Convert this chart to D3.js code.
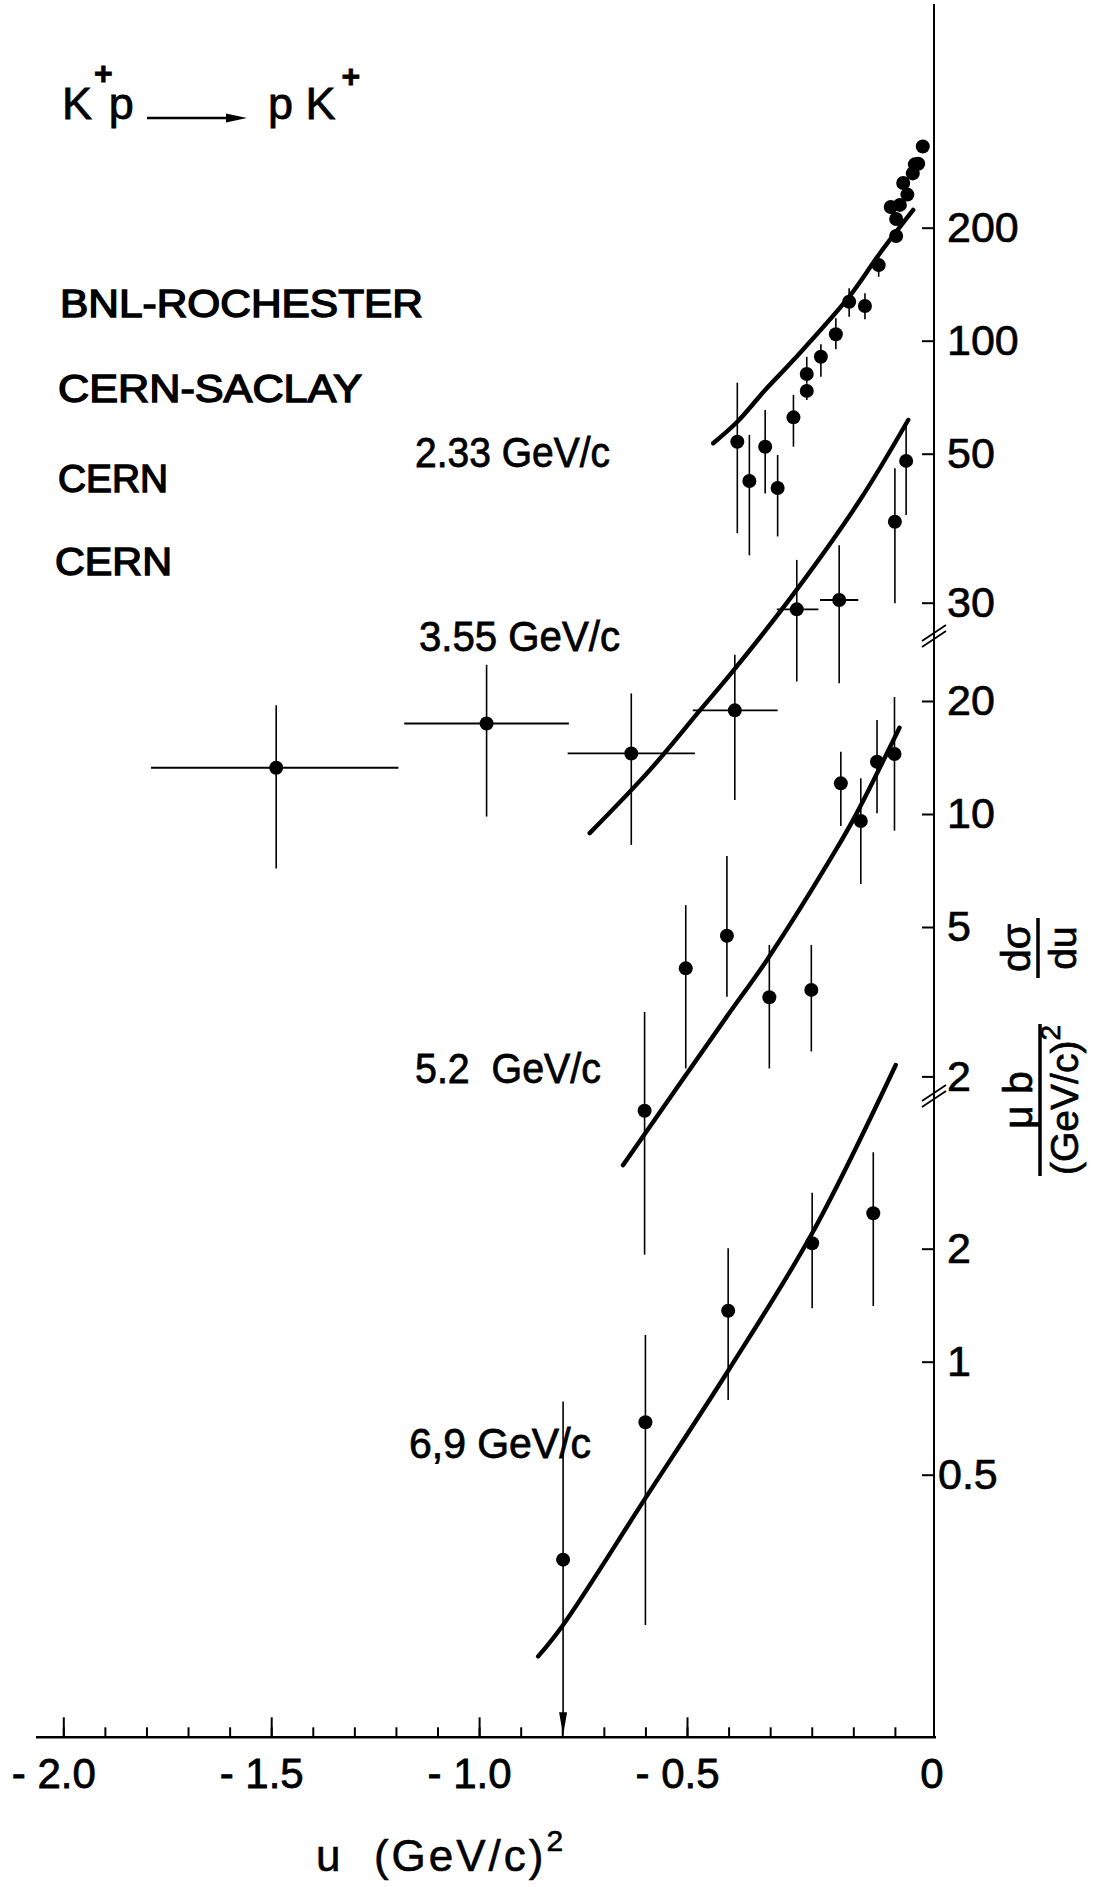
<!DOCTYPE html>
<html>
<head>
<meta charset="utf-8">
<script src="https://cdn.jsdelivr.net/npm/d3@7"></script>
<style>
  body { margin: 0; background: #fff; }
  svg { display: block; }
  text { font-family: "Liberation Sans", Arial, sans-serif; fill: #000; white-space: pre; }
</style>
</head>
<body>
<div id="chart"></div>
<script>
// ---- data ----
var experiments = ["BNL-ROCHESTER", "CERN-SACLAY", "CERN", "CERN"];
var momenta = ["2.33 GeV/c", "3.55 GeV/c", "5.2  GeV/c", "6,9 GeV/c"];

// 2.33 GeV/c
var u233 = [-0.379, -0.350, -0.312, -0.282, -0.244, -0.212, -0.212, -0.178, -0.142, -0.110, -0.072, -0.039,
            0.003, 0.003, -0.010, 0.012, 0.030, 0.020, 0.043, 0.048, 0.056, 0.067];
var s233 = [53.8, 42.3, 52.2, 40.5, 62.5, 73.5, 81.5, 90.6, 104, 127, 123.7, 159,
            190, 211, 227, 230, 245, 263, 279, 295, 296, 329];
var lo233 = [30.7, 26.8, 39.2, 30.1, 52.2, 69.5, 77, 80.2, 94.9, 115.9, 114, 148,
             183, 205, 222, 225, 240, 258, 274, 290, 291, 323];
var hi233 = [77.3, 56.1, 65.4, 49.6, 71.7, 77, 90.6, 97.8, 114.7, 137.9, 133.8, 167,
             197, 217, 233, 235, 250, 268, 284, 300, 301, 335];
var cu233 = [-0.437, -0.379, -0.312, -0.244, -0.110, -0.036, 0.044];
var cv233 = [53.3, 60.8, 73.9, 88.8, 131, 171, 223];

// 3.55 GeV/c
var u355 = [-1.488, -0.982, -0.634, -0.385, -0.236, -0.134, 0.000, 0.027];
var uLo355 = [-1.789, -1.180, -0.787, -0.486, -0.284, -0.180, null, null];
var uHi355 = [-1.194, -0.784, -0.481, -0.282, -0.184, -0.088, null, null];
var s355 = [10.9, 14.3, 11.9, 15.5, 28.8, 30.5, 49.3, 71.6];
var lo355 = [5.88, 8.08, 6.79, 8.94, 18.5, 18.3, 29.9, 51.4];
var hi355 = [16.0, 20.5, 17.2, 21.8, 39.0, 42.7, 68.4, 88.3];
var cu355 = [-0.734, -0.589, -0.469, -0.393, -0.236, -0.084, 0.032];
var cv355 = [7.30, 10.76, 15.5, 19.5, 32.5, 56.3, 92.0];

// 5.2 GeV/c
var u52 = [-0.602, -0.503, -0.404, -0.302, -0.201, -0.130, -0.082, -0.043, -0.001];
var s52 = [1.62, 3.88, 4.74, 3.25, 3.40, 12.07, 9.58, 13.78, 14.45];
var lo52 = [0.67, 2.10, 3.26, 2.10, 2.33, 9.29, 6.51, 10.04, 9.03];
var hi52 = [2.97, 5.72, 7.73, 4.48, 4.48, 14.65, 12.45, 17.8, 20.5];
var cu52 = [-0.654, -0.404, -0.308, -0.142, -0.092, 0.011];
var cv52 = [1.16, 2.89, 4.08, 8.02, 10.04, 16.98];

// 6.9 GeV/c (first point: upper limit, arrow)
var u69 = [-0.798, -0.600, -0.401, -0.199, -0.052];
var s69 = [0.297, 0.690, 1.367, 2.067, 2.485];
var lo69 = [null, 0.199, 0.791, 1.388, 1.407];
var hi69 = [0.783, 1.178, 2.005, 2.820, 3.613];
var cu69 = [-0.858, -0.798, -0.600, -0.401, -0.199, 0.002];
var cv69 = [0.164, 0.199, 0.433, 0.946, 2.198, 6.17];

// axis tick labels
var ticksTop = [200, 100, 50];
var ticks355 = [30];
var ticksMid = [20, 10, 5, 2];
var ticksLow = [2, 1, 0.5];
var xMajor = [-2.0, -1.5, -1.0, -0.5];
var xMinor = d3.range(-20, 1).map(function(i) { return i / 10; });

// ---- layout ----
var svgWidth = 1106;
var svgHeight = 1887;
var yAxisX = 934;
var xAxisY = 1737.3;

var svg = d3.select("#chart")
  .append("svg")
  .attr("width", svgWidth)
  .attr("height", svgHeight);

var x = d3.scaleLinear().domain([-2.0, 0]).range([63.3, 894.9]);

// each momentum has its own log scale (same decade size, shifted as in the figure)
function logScale(v0, y0) {
  return d3.scaleLog().domain([v0, v0 * 10]).range([y0, y0 - 375.4]);
}
var y233 = logScale(100, 340.7);
var y355 = logScale(30, 602.7);
var y52 = logScale(10, 814);
var y69 = logScale(1, 1361.7);

// ---- axes ----
svg.append("line")
  .attr("x1", 36).attr("x2", yAxisX + 2)
  .attr("y1", xAxisY).attr("y2", xAxisY)
  .attr("stroke", "#000").attr("stroke-width", 2.4);

svg.append("line")
  .attr("x1", yAxisX).attr("x2", yAxisX)
  .attr("y1", 4).attr("y2", xAxisY)
  .attr("stroke", "#000").attr("stroke-width", 2);

var minorAxis = svg.append("g")
  .attr("transform", `translate(0, ${xAxisY})`)
  .call(d3.axisBottom(x).tickValues(xMinor).tickSize(-10).tickFormat(""));
minorAxis.select(".domain").remove();

var majorAxis = svg.append("g")
  .attr("transform", `translate(0, ${xAxisY})`)
  .call(d3.axisBottom(x).tickValues(xMajor).tickSize(-20).tickPadding(21)
    .tickFormat(function(d) { return "- " + d3.format(".1f")(-d); }));
majorAxis.select(".domain").remove();
majorAxis.selectAll("text")
  .attr("font-size", 42)
  .attr("font-family", "'Liberation Sans Narrow', 'Liberation Sans', Arial, sans-serif")
  .attr("stroke", "#000").attr("stroke-width", 0.8)
  .attr("dx", -10);

svg.selectAll("g.tick line").attr("stroke", "#000").attr("stroke-width", 2);

svg.append("text")
  .attr("x", yAxisX - 2).attr("y", 1788)
  .attr("text-anchor", "middle")
  .attr("font-size", 42)
  .attr("font-family", "'Liberation Sans Narrow', 'Liberation Sans', Arial, sans-serif")
  .attr("stroke", "#000").attr("stroke-width", 0.8)
  .text("0");

function yTicks(scale, vals) {
  var g = svg.append("g")
    .attr("transform", `translate(${yAxisX}, 0)`)
    .call(d3.axisRight(scale).tickValues(vals).tickSize(-12).tickPadding(13).tickFormat(d3.format("~g")));
  g.select(".domain").remove();
  g.selectAll("line").attr("stroke", "#000").attr("stroke-width", 2);
  g.selectAll("text")
    .attr("font-size", 43)
    .attr("font-family", "'Liberation Sans', Arial, sans-serif")
    .attr("stroke", "#000").attr("stroke-width", 0.7)
    .attr("dx", d => d < 1 ? -9 : 0);
}
yTicks(y233, ticksTop);
yTicks(y355, ticks355);
yTicks(y52, ticksMid);
yTicks(y69, ticksLow);

// axis break marks
[636, 1096].forEach(function(yc) {
  [-3, 3].forEach(function(off) {
    svg.append("line")
      .attr("x1", yAxisX - 12).attr("y1", yc + off + 8)
      .attr("x2", yAxisX + 12).attr("y2", yc + off - 8)
      .attr("stroke", "#000").attr("stroke-width", 1.8);
  });
});

// x axis title
var xTitle = svg.append("text")
  .attr("x", 316).attr("y", 1871)
  .attr("font-size", 44)
  .attr("letter-spacing", 3)
  .attr("stroke", "#000").attr("stroke-width", 0.6)
  .text("u  (GeV/c)");
xTitle.append("tspan").attr("dy", -20).attr("font-size", 30).text("2");

// y axis title: two stacked fractions, rotated
function fraction(cx, cy, half, num, den, sup) {
  var g = svg.append("g").attr("transform", `translate(${cx}, ${cy}) rotate(-90)`);
  g.append("line").attr("x1", -half).attr("x2", half).attr("y1", 0).attr("y2", 0)
    .attr("stroke", "#000").attr("stroke-width", 3.5);
  g.append("text").attr("x", 0).attr("y", -8).attr("text-anchor", "middle")
    .attr("font-size", 41).attr("stroke", "#000").attr("stroke-width", 0.7).text(num);
  var d = g.append("text").attr("x", 0).attr("y", 38).attr("text-anchor", "middle")
    .attr("font-size", 39).attr("stroke", "#000").attr("stroke-width", 0.7).text(den);
  if (sup) d.append("tspan").attr("dy", -18).attr("font-size", 28).text(sup);
}
fraction(1040, 1100, 76, "\u03bc b", "(GeV/c)", "2");
fraction(1038, 948, 30, "d\u03c3", "du", null);

// ---- title and legend ----
var title = svg.append("g")
  .attr("font-size", 45)
  .attr("stroke", "#000").attr("stroke-width", 0.8);
var t1 = title.append("text").attr("x", 62).attr("y", 119).text("K");
t1.append("tspan").attr("dx", 2).attr("dy", -35).attr("font-size", 32).attr("font-weight", "bold").text("+");
t1.append("tspan").attr("dx", -4).attr("dy", 35).text("p");
title.append("line").attr("x1", 147).attr("x2", 232).attr("y1", 118).attr("y2", 118)
  .attr("stroke", "#000").attr("stroke-width", 2.5);
title.append("path").attr("d", "M226,113.5 L247,118 L226,122.5 Z").attr("fill", "#000").attr("stroke", "none");
var t2 = title.append("text").attr("x", 268).attr("y", 119).text("p K");
t2.append("tspan").attr("dx", 6).attr("dy", -32).attr("font-size", 32).attr("font-weight", "bold").text("+");

var legendPos = [[60, 316.7, 363], [58, 401.7, 304], [58, 491.7, 110], [55, 575, 117]];
svg.selectAll(".expt")
  .data(experiments)
  .enter()
  .append("text")
  .attr("class", "expt")
  .attr("x", (d, i) => legendPos[i][0])
  .attr("y", (d, i) => legendPos[i][1])
  .attr("textLength", (d, i) => legendPos[i][2])
  .attr("lengthAdjust", "spacingAndGlyphs")
  .attr("font-size", 38)
  .attr("stroke", "#000")
  .attr("stroke-width", 1.4)
  .text(d => d);

var momPos = [[415, 467, 195], [419, 651, 201], [415, 1083, 186], [409, 1458, 182]];
svg.selectAll(".mom")
  .data(momenta)
  .enter()
  .append("text")
  .attr("class", "mom")
  .attr("x", (d, i) => momPos[i][0])
  .attr("y", (d, i) => momPos[i][1])
  .attr("textLength", (d, i) => momPos[i][2])
  .attr("lengthAdjust", "spacingAndGlyphs")
  .attr("font-size", 43)
  .attr("stroke", "#000")
  .attr("stroke-width", 0.8)
  .text(d => d);

// ---- data ----
var line = d3.line().curve(d3.curveCatmullRom.alpha(0.5));

function drawSeries(scale, u, s, lo, hi, uLo, uHi, cu, cv) {
  var pts = u.map(function(d, i) {
    return { u: d, s: s[i], lo: lo[i], hi: hi[i],
             uLo: uLo ? uLo[i] : null, uHi: uHi ? uHi[i] : null };
  });
  var g = svg.append("g");

  g.append("path")
    .datum(cu.map((d, i) => [x(d), scale(cv[i])]))
    .attr("d", line)
    .attr("fill", "none")
    .attr("stroke", "#000")
    .attr("stroke-width", 4.4)
    .attr("stroke-linecap", "round");

  g.selectAll(".ey")
    .data(pts)
    .enter()
    .append("line")
    .attr("x1", d => x(d.u)).attr("x2", d => x(d.u))
    .attr("y1", d => scale(d.hi))
    .attr("y2", d => d.lo == null ? xAxisY - 20 : scale(d.lo))
    .attr("stroke", "#000")
    .attr("stroke-width", 1.6);

  g.selectAll(".arrow")
    .data(pts.filter(d => d.lo == null))
    .enter()
    .append("path")
    .attr("d", d => `M${x(d.u) - 4},${xAxisY - 25} L${x(d.u) + 4},${xAxisY - 25} L${x(d.u)},${xAxisY - 2} Z`)
    .attr("fill", "#000");

  g.selectAll(".ex")
    .data(pts.filter(d => d.uLo != null))
    .enter()
    .append("line")
    .attr("x1", d => x(d.uLo)).attr("x2", d => x(d.uHi))
    .attr("y1", d => scale(d.s)).attr("y2", d => scale(d.s))
    .attr("stroke", "#000")
    .attr("stroke-width", 1.8);

  g.selectAll("circle")
    .data(pts)
    .enter()
    .append("circle")
    .attr("cx", d => x(d.u))
    .attr("cy", d => scale(d.s))
    .attr("r", 7)
    .attr("fill", "#000");
}

drawSeries(y233, u233, s233, lo233, hi233, null, null, cu233, cv233);
drawSeries(y355, u355, s355, lo355, hi355, uLo355, uHi355, cu355, cv355);
drawSeries(y52, u52, s52, lo52, hi52, null, null, cu52, cv52);
drawSeries(y69, u69, s69, lo69, hi69, null, null, cu69, cv69);
</script>
</body>
</html>
